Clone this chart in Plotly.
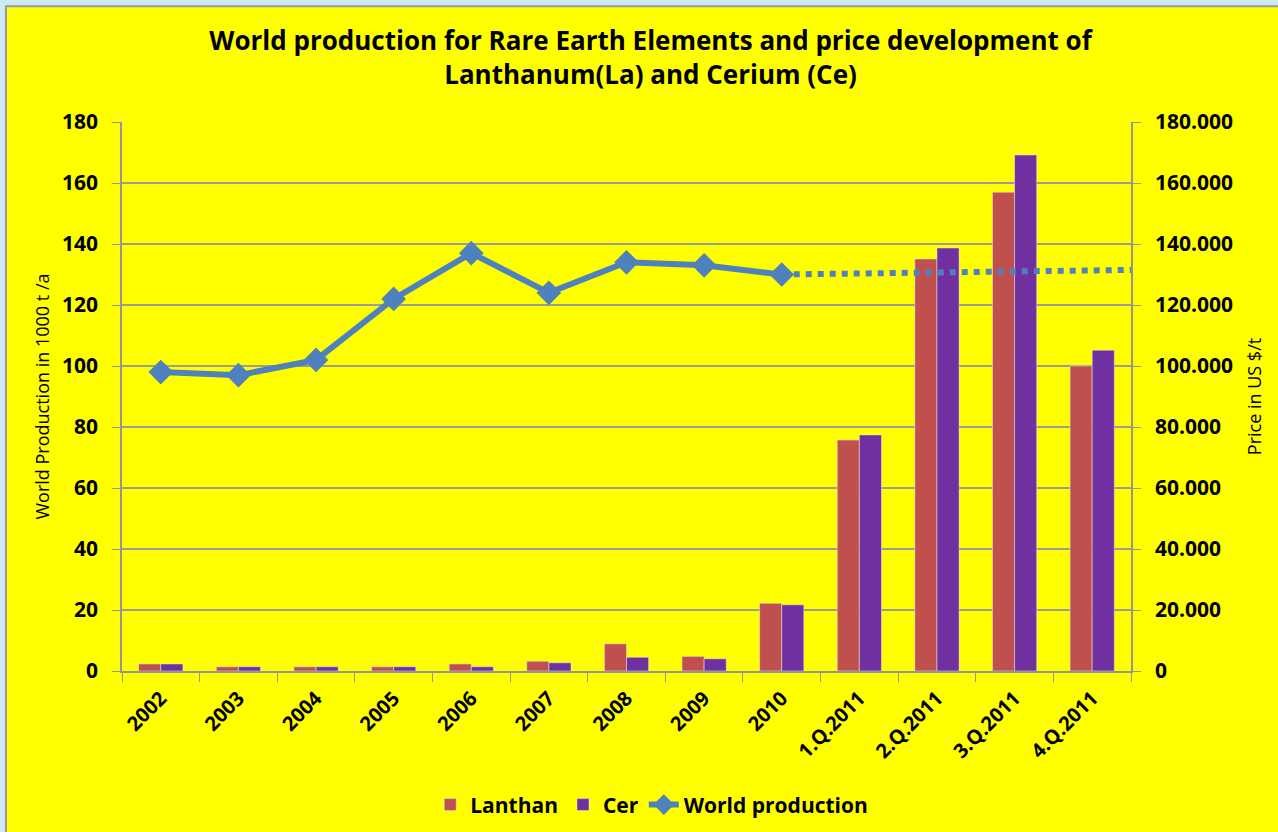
import plotly.graph_objects as go

categories = ['2002', '2003', '2004', '2005', '2006', '2007', '2008', '2009', '2010',
              '1.Q.2011', '2.Q.2011', '3.Q.2011', '4.Q.2011']
lanthan = [2300, 1400, 1400, 1400, 2300, 3200, 8900, 4800, 22200, 75700, 135100, 157000, 100000]
cer = [2300, 1400, 1400, 1400, 1400, 2700, 4500, 4000, 21700, 77400, 138700, 169200, 105200]
world_production = [98, 97, 102, 122, 137, 124, 134, 133, 130]
trend_x = [8, 12.5]
trend_y = [130, 131.5]

xpos = list(range(len(categories)))
font = 'Open Sans'
grey = '#959595'

fig = go.Figure()
fig.add_trace(go.Bar(x=xpos, y=lanthan, name='Lanthan', marker_color='#c0504d', yaxis='y'))
fig.add_trace(go.Bar(x=xpos, y=cer, name='Cer', marker_color='#7030a0', yaxis='y'))
fig.add_trace(go.Scatter(x=xpos[:len(world_production)], y=world_production, name='World production',
                         mode='lines+markers', yaxis='y2',
                         line=dict(color='#4f81bd', width=6),
                         marker=dict(symbol='diamond', size=19, color='#4f81bd')))
fig.add_trace(go.Scatter(x=trend_x, y=trend_y, mode='lines', yaxis='y2', showlegend=False,
                         line=dict(color='#4f81bd', width=6, dash='dot')))

# yellow chart area with grey frame on light blue window
fig.add_shape(type='rect', xref='paper', yref='paper', x0=-0.115, x1=1.2, y0=-0.35, y1=1.211,
              fillcolor='#ffff00', line=dict(color='#9a9a9a', width=2), layer='below')

fig.update_layout(
    width=1278, height=832,
    paper_bgcolor='#cfe8f5', plot_bgcolor='rgba(0,0,0,0)',
    margin=dict(l=122, r=147, t=122, b=161, autoexpand=False),
    separators=',.',
    barmode='group', bargap=0.43, bargroupgap=0,
    font=dict(family=font, color='black'),
    title=dict(text='World production for Rare Earth Elements and price development of<br>Lanthanum(La) and Cerium (Ce)',
               x=0.509, xanchor='center', y=0.94, yanchor='middle',
               font=dict(size=26, family=font, weight='bold')),
    legend=dict(orientation='h', x=0.525, xanchor='center', y=-0.244, yanchor='middle',
                font=dict(size=21, weight='bold'), bgcolor='rgba(0,0,0,0)'),
    xaxis=dict(range=[-0.5, 12.5], tickvals=xpos, ticktext=categories, tickangle=-45,
               ticks='', ticklabelstandoff=6, automargin=False,
               tickfont=dict(size=20, weight='bold'),
               showgrid=False, zeroline=False, showline=True, linecolor=grey, linewidth=1.5,
               minor=dict(ticks='outside', tick0=-0.5, dtick=1, ticklen=9, tickcolor=grey, showgrid=False)),
    yaxis=dict(side='right', range=[0, 180000], dtick=20000, tickformat=',d', automargin=False,
               ticks='outside', ticklen=8, tickcolor=grey, ticklabelstandoff=10,
               tickfont=dict(size=21, weight='bold'),
               showgrid=True, gridcolor='#9c9c9c', gridwidth=1.5, zeroline=False,
               showline=True, linecolor=grey, linewidth=1.5,
               title=dict(text='Price in US $/t', font=dict(size=18), standoff=16)),
    yaxis2=dict(side='left', overlaying='y', range=[0, 180], dtick=20, automargin=False,
                ticks='outside', ticklen=8, tickcolor=grey, ticklabelstandoff=10,
                tickfont=dict(size=21, weight='bold'),
                showgrid=False, zeroline=False, showline=True, linecolor=grey, linewidth=1.5,
                title=dict(text='World Production in 1000 t /a', font=dict(size=18), standoff=8)),
)

fig.write_html('out.html', config={'displayModeBar': False},
               post_script="document.body.style.margin='0';document.body.style.background='#cfe8f5';")
